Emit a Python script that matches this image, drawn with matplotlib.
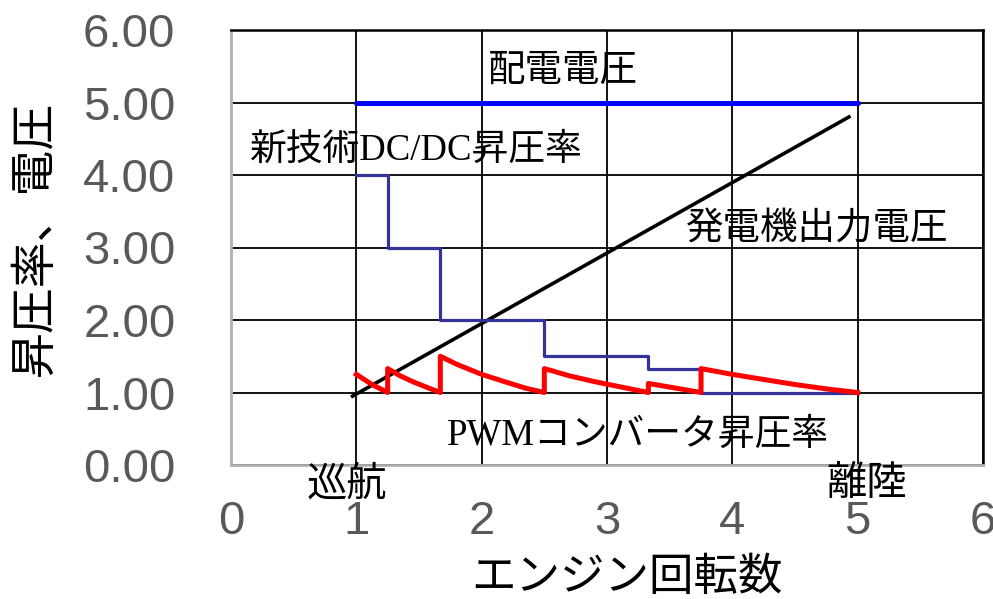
import matplotlib
matplotlib.use('Agg')
import matplotlib.pyplot as plt

# engine speed (relative)
dist_v_x = [1.0, 5.0]
dist_v_y = [5.0, 5.0]

gen_v_x = [0.97, 4.93]
gen_v_y = [0.95, 4.80]

dcdc_x = [1.0, 1.25, 1.67, 2.5, 3.33, 3.75, 5.0]
dcdc_y = [4.0, 3.0, 2.0, 1.5, 1.33, 1.0, 1.0]

pwm_x = [1.00, 1.125, 1.25,
         1.25, 1.35, 1.45, 1.55, 1.67,
         1.67, 1.80, 2.00, 2.20, 2.35, 2.50,
         2.50, 2.70, 2.90, 3.10, 3.33,
         3.33, 3.55, 3.75,
         3.75, 4.00, 4.25, 4.50, 4.75, 5.00]
pwm_y = [1.25, 1.11, 1.00,
         1.33, 1.23, 1.15, 1.08, 1.00,
         1.50, 1.39, 1.25, 1.14, 1.06, 1.00,
         1.33, 1.23, 1.15, 1.08, 1.00,
         1.125, 1.06, 1.00,
         1.33, 1.25, 1.18, 1.11, 1.05, 1.00]

x_ticks = [0, 1, 2, 3, 4, 5, 6]
y_ticks = [0, 1, 2, 3, 4, 5, 6]

jp = ['Noto Sans CJK JP', 'DejaVu Sans']
mixed = ['Liberation Serif', 'Noto Sans CJK JP']

fig = plt.figure(figsize=(9.93, 5.99), dpi=100)
ax = fig.add_axes([231 / 993, 1 - 465 / 599, (983 - 231) / 993, (465 - 30) / 599])

ax.set_xlim(0, 6)
ax.set_ylim(0, 6)
ax.set_xticks(x_ticks)
ax.set_yticks(y_ticks)
ax.set_xticklabels([str(v) for v in x_ticks])
ax.set_yticklabels([f"{v:.2f}" for v in y_ticks])
ax.tick_params(length=0, labelsize=34, labelcolor='#595959')
ax.tick_params(axis='y', pad=40)
ax.tick_params(axis='x', pad=25)
for lab in ax.get_xticklabels() + ax.get_yticklabels():
    lab.set_family('Liberation Sans')

ax.grid(True, color='black', linewidth=1.3)
ax.set_axisbelow(True)
for s in ['left', 'bottom']:
    ax.spines[s].set_color('#b0b0b0')
    ax.spines[s].set_linewidth(2)
for s in ['top', 'right']:
    ax.spines[s].set_color('black')
    ax.spines[s].set_linewidth(1.8)

ax.plot(dist_v_x, dist_v_y, color='#0000ff', linewidth=3.6, solid_capstyle='round', zorder=3)
ax.plot(gen_v_x, gen_v_y, color='black', linewidth=2.6, zorder=3)
ax.plot(dcdc_x, dcdc_y, color='#333399', linewidth=2.3, drawstyle='steps-post', zorder=3)
ax.plot(pwm_x, pwm_y, color='#ff0000', linewidth=3.6, zorder=4)

ax.text(2.65, 5.45, '配電電圧', family=jp, fontsize=27, ha='center', va='center')
ax.text(0.15, 4.34, '新技術DC/DC昇圧率', family=mixed, fontsize=26.5, ha='left', va='center')
ax.text(3.63, 3.27, '発電機出力電圧', family=jp, fontsize=27, ha='left', va='center')
ax.text(1.72, 0.41, 'PWMコンバータ昇圧率', family=mixed, fontsize=26.5, ha='left', va='center')

ax.text(0.92, -0.26, '巡航', family=jp, fontsize=29, ha='center', va='center', clip_on=False)
ax.text(5.07, -0.26, '離陸', family=jp, fontsize=29, ha='center', va='center', clip_on=False)

fig.text(35 / 993, 1 - 238 / 599, '昇圧率、電圧', family=jp, fontsize=33,
         rotation=90, ha='center', va='center')
fig.text(627 / 993, 1 - 577 / 599, 'エンジン回転数', family=jp, fontsize=32,
         ha='center', va='center')

fig.savefig('out.png', dpi=100)
